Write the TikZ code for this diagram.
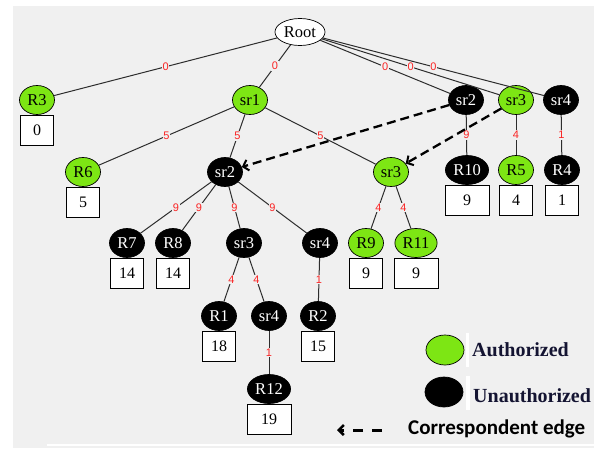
\documentclass[tikz,border=0pt]{standalone}
\usepackage{fontspec}
\setmainfont{Liberation Serif}
\newfontfamily\weightfont{Liberation Sans}
\newfontfamily\legendsans{Carlito}
\usetikzlibrary{shapes.geometric,arrows.meta}

\definecolor{canvas}{RGB}{240,240,240}
\definecolor{authgreen}{RGB}{125,230,20}
\definecolor{linkgray}{RGB}{45,45,45}
\definecolor{weightred}{RGB}{250,35,35}
\definecolor{legendink}{RGB}{20,20,50}

\begin{document}
\begin{tikzpicture}[x=1pt,y=-1pt,
  rnode/.style={ellipse, draw=black, line width=0.7pt, minimum width=35pt,
    minimum height=29pt, inner xsep=1.5pt, inner ysep=0pt,
    font=\fontsize{16.5}{16.5}\selectfont},
  okres/.style={rnode, fill=authgreen, text=black},
  nores/.style={rnode, fill=black, text=white},
  rootnode/.style={rnode, fill=white, minimum width=50pt, minimum height=27pt},
  valbox/.style={draw=black, fill=white, line width=0.7pt, minimum width=33pt,
    minimum height=30pt, inner sep=0pt, anchor=north,
    font=\fontsize{16}{16}\selectfont},
  widebox/.style={valbox, minimum width=44pt},
  link/.style={draw=linkgray, line width=1pt},
  wt/.style={fill=canvas, text=weightred, inner sep=0.8pt,
    font=\weightfont\fontsize{11}{11}\selectfont},
  corr/.style={draw=black, line width=2.3pt, dash pattern=on 9pt off 5pt,
    -{Straight Barb[length=5pt,width=11pt,line width=2pt]}},
  legtext/.style={anchor=base west, inner sep=0pt, text=legendink,
    font=\bfseries\fontsize{20}{20}\selectfont}
]
\useasboundingbox (0,0) rectangle (606,450);
\fill[white] (0,0) rectangle (606,450);
\fill[canvas] (13,6) rectangle (594,448);
\draw[white, line width=1.2pt] (47,445) -- (594,445);

% resources and sub-resources
\node[rootnode] (root) at (300,32) {Root};
\node[okres] (R3)   at (37,100)  {R3};
\node[okres] (sr1)  at (250,100) {sr1};
\node[nores] (sr2a) at (466,100) {sr2};
\node[okres] (sr3a) at (516,100) {sr3};
\node[nores] (sr4a) at (561,100) {sr4};

\node[okres] (R6)   at (83,172)  {R6};
\node[nores] (sr2b) at (225,172) {sr2};
\node[okres] (sr3b) at (391,172) {sr3};
\node[nores] (R10)  at (467,170) {R10};
\node[okres] (R5)   at (516,170) {R5};
\node[nores] (R4)   at (562,170) {R4};

\node[nores] (R7)   at (127,243) {R7};
\node[nores] (R8)   at (173,243) {R8};
\node[nores] (sr3c) at (244,243) {sr3};
\node[nores] (sr4c) at (320,243) {sr4};
\node[okres] (R9)   at (366,243) {R9};
\node[okres] (R11)  at (416,243) {R11};

\node[nores] (R1)   at (219,316) {R1};
\node[nores] (sr4d) at (269,316) {sr4};
\node[nores] (R2)   at (318,316) {R2};
\node[nores] (R12)  at (269,389) {R12};

% value boxes under the leaves
\node[valbox]  (vR3)  at (R3.south)  {0};
\node[valbox]  (vR6)  at (R6.south)  {5};
\node[widebox] (vR10) at (R10.south) {9};
\node[valbox]  (vR5)  at (R5.south)  {4};
\node[valbox]  (vR4)  at (R4.south)  {1};
\node[valbox]  (vR7)  at (R7.south)  {14};
\node[valbox]  (vR8)  at (R8.south)  {14};
\node[valbox]  (vR9)  at (R9.south)  {9};
\node[widebox] (vR11) at (R11.south) {9};
\node[valbox]  (vR1)  at (R1.south)  {18};
\node[valbox]  (vR2)  at (R2.south)  {15};
\node[widebox] (vR12) at (R12.south) {19};

% weighted tree edges
\draw[link] (root) -- node[wt]{0} (R3);
\draw[link] (root) -- node[wt]{0} (sr1);
\draw[link] (root) -- node[wt]{0} (sr2a);
\draw[link] (root) -- node[wt]{0} (sr3a);
\draw[link] (root) -- node[wt]{0} (sr4a);
\draw[link] (sr1) -- node[wt]{5} (R6);
\draw[link] (sr1) -- node[wt]{5} (sr2b);
\draw[link] (sr1) -- node[wt]{5} (sr3b);
\draw[link] (sr2a) -- node[wt]{9} (R10);
\draw[link] (sr3a) -- node[wt]{4} (R5);
\draw[link] (sr4a) -- node[wt]{1} (R4);
\draw[link] (sr2b) -- node[wt]{9} (R7);
\draw[link] (sr2b) -- node[wt]{9} (R8);
\draw[link] (sr2b) -- node[wt]{9} (sr3c);
\draw[link] (sr2b) -- node[wt]{9} (sr4c);
\draw[link] (sr3b) -- node[wt]{4} (R9);
\draw[link] (sr3b) -- node[wt]{4} (R11);
\draw[link] (sr3c) -- node[wt]{4} (R1);
\draw[link] (sr3c) -- node[wt]{4} (sr4d);
\draw[link] (sr4c) -- node[wt]{1} (R2);
\draw[link] (sr4d) -- node[wt]{1} (R12);

% correspondent edges
\draw[corr] (sr2a) -- (sr2b);
\draw[corr] (sr3a) -- (sr3b);

% legend
\fill[white] (466,333) rectangle (469,367);
\fill[white] (466,376) rectangle (470,410);
\node[ellipse, draw=black, line width=0.7pt, fill=authgreen, minimum width=38pt,
  minimum height=30pt, inner sep=0pt] (legA) at (445,350) {};
\node[ellipse, draw=black, line width=0.7pt, fill=black, minimum width=38pt,
  minimum height=30pt, inner sep=0pt] (legU) at (444,392) {};
\node[legtext] (legAt) at (472,356) {Authorized};
\node[legtext] (legUt) at (473,402) {Unauthorized};
\node[anchor=base west, inner sep=0pt,
  font=\legendsans\bfseries\fontsize{21}{21}\selectfont] (legCt) at (408,434)
  {Correspondent edge};
\coordinate (legS) at (382,430);
\coordinate (legE) at (337,430);
\draw[draw=black, line width=3pt, dash pattern=on 10pt off 9pt,
  -{Straight Barb[length=5pt,width=10pt,line width=2.5pt]}] (legS) -- (legE);
\end{tikzpicture}
\end{document}
